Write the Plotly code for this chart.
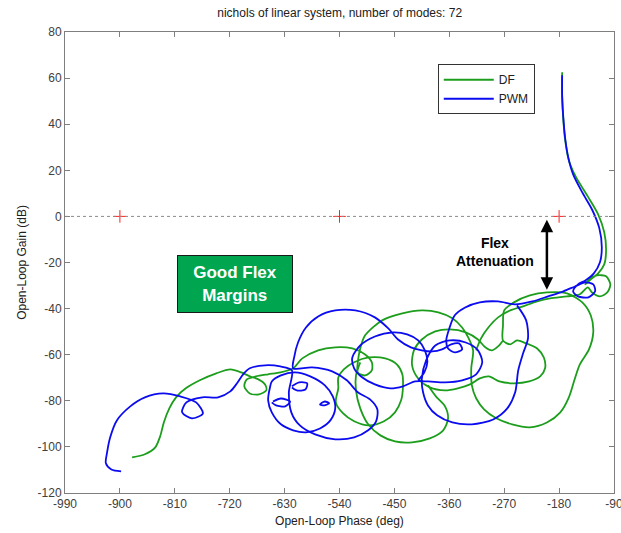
import plotly.graph_objects as go

# ---------------- data (phase in deg, gain in dB) ----------------
x_ticks = [-990, -900, -810, -720, -630, -540, -450, -360, -270, -180, -90]
y_ticks = [-120, -100, -80, -60, -40, -20, 0, 20, 40, 60, 80]

# DF (green) segments
df_a_phase = [-880, -859, -842, -834, -828, -819, -808, -792, -769, -742, -719, -701, -687, -673, -662, -660,
              -672, -687, -696, -692, -677, -657, -637, -616, -601, -575, -547, -519, -498, -487, -487, -498,
              -510, -510, -506, -498, -470, -437, -405, -378, -355, -339, -329, -321, -324, -323, -316, -303,
              -283, -257, -228, -200, -178, -164, -155, -146, -131, -124, -128, -142, -167, -200, -228, -254,
              -270, -272, -272, -260, -249, -234, -216, -205, -203, -211, -229, -255, -278, -295, -310, -326,
              -346, -367, -392, -411, -421, -418, -405, -383, -359, -333, -313, -301, -290, -280, -272]
df_a_gain = [-104.5, -103.2, -100.2, -95.4, -89.4, -83.3, -78.5, -74.6, -71.1, -68.1, -66.4, -67.7, -69.4, -70.7,
             -72.9, -75.5, -77.2, -76.8, -73.7, -70.7, -69.4, -68.5, -67.7, -65.9, -61.6, -58.1, -56.8, -57.3,
             -59.9, -63.3, -66.8, -69.0, -67.7, -63.3, -57.3, -51.6, -45.1, -42.1, -40.8, -41.6, -44.2, -48.2,
             -52.5, -58.1, -65.9, -73.3, -78.9, -83.7, -87.6, -90.2, -91.5, -89.4, -85.0, -78.5, -71.1, -64.2,
             -57.7, -50.3, -43.0, -37.3, -33.4, -33.0, -34.3, -37.3, -40.8, -47.3, -53.8, -55.5, -53.8, -55.1,
             -57.3, -61.2, -65.9, -69.4, -71.6, -72.4, -71.6, -69.4, -70.3, -72.9, -74.6, -75.5, -74.2, -70.3,
             -64.6, -58.1, -53.4, -49.9, -49.0, -50.3, -53.4, -56.8, -58.1, -56.4, -53.8]

df_b_phase = [-395, -382, -367, -362, -370, -392, -421, -449, -473, -493, -506, -513, -513, -506]
df_b_gain = [-73.3, -78.1, -82.4, -87.6, -92.8, -96.3, -98.0, -97.6, -95.0, -90.2, -83.3, -75.5, -69.0, -63.3]

df_c_phase = [-542, -542, -533, -516, -492, -465, -446, -437, -436, -439, -449, -467, -492, -516, -534, -546, -542]
df_c_gain = [-74.6, -69.9, -66.4, -63.3, -61.2, -61.6, -64.2, -68.5, -74.2, -79.8, -85.0, -88.9, -90.7, -88.9,
             -85.5, -80.7, -74.6]

df_d_phase = [-175, -175, -173, -170, -164, -152, -133, -116, -106, -103, -106, -116, -128, -137, -131, -118,
              -103, -96, -101, -113, -126, -133, -146, -167, -195, -216, -239, -260, -280, -296, -308, -316]
df_d_gain = [62.5, 52.5, 41.6, 33.0, 24.3, 16.9, 8.7, 0.9, -6.9, -14.8, -20.8, -24.7, -27.3, -29.5, -27.3, -25.6,
             -26.0, -29.5, -33.0, -34.7, -33.0, -30.8, -33.8, -34.7, -35.6, -36.9, -39.0, -40.8, -43.8, -48.2,
             -52.9, -58.1]

# PWM (blue) segments
pwm_a_phase = [-175, -175, -173, -170, -165, -157, -142, -126, -114, -110, -113, -123, -137, -149, -157, -149,
               -132, -121, -124, -137, -154, -173, -198, -224, -252, -280, -310, -334, -351, -360, -365, -362,
               -351, -339, -344, -357, -372, -388, -405, -423, -444, -460, -482, -514, -547, -575, -595, -608,
               -614, -616, -585, -552, -528, -510, -490, -478, -480, -493, -516, -547, -580, -605, -619, -623,
               -618, -637, -662, -687, -698, -708, -719, -739, -765, -791, -798, -782, -764, -775, -801, -829,
               -859, -883, -905, -916, -921, -923, -914, -898]
pwm_a_gain = [61.2, 52.1, 42.5, 33.8, 25.6, 18.2, 10.4, 3.0, -5.2, -13.4, -19.9, -24.7, -27.8, -29.5, -32.5, -34.7,
              -35.1, -32.5, -29.5, -28.6, -30.4, -32.5, -34.7, -36.9, -38.2, -36.9, -37.3, -39.5, -42.9, -48.6,
              -53.8, -57.3, -59.0, -57.7, -55.1, -55.5, -57.7, -58.6, -58.1, -56.8, -53.4, -48.6, -43.8, -40.8,
              -40.8, -43.4, -48.2, -54.7, -60.7, -65.9, -65.5, -67.2, -71.1, -76.3, -79.4, -83.7, -88.9, -92.8,
              -95.9, -96.7, -94.6, -90.7, -85.0, -76.3, -66.8, -65.1, -64.6, -65.9, -68.5, -72.4, -75.9, -78.5,
              -78.5, -80.7, -85.0, -87.6, -85.5, -80.7, -78.1, -76.8, -78.5, -82.4, -88.5, -95.9, -102.4, -107.1,
              -109.8, -110.6]

pwm_b_phase = [-249, -234, -231, -239, -247, -252, -265, -288, -323, -355, -380, -395, -403, -405, -398, -383,
               -359, -333, -313, -306, -316, -339, -367, -395, -416, -436, -457, -482, -503, -516, -519, -506,
               -482, -452, -429, -411, -400, -396, -401, -411]
pwm_b_gain = [-38.6, -45.1, -52.9, -59.4, -66.8, -76.3, -83.3, -88.1, -90.2, -89.4, -86.3, -82.0, -76.3, -70.3,
              -62.5, -56.0, -53.8, -54.7, -58.1, -63.3, -68.5, -71.1, -72.0, -71.6, -71.6, -73.7, -74.6, -72.9,
              -69.8, -65.9, -61.2, -56.0, -52.1, -50.3, -51.2, -53.8, -58.1, -63.3, -67.7, -71.1]

pwm_c_phase = [-654, -657, -651, -636, -616, -595, -572, -555, -547, -551, -564, -588, -613, -636, -651, -654]
pwm_c_gain = [-74.2, -79.8, -85.0, -90.2, -92.8, -93.7, -92.0, -88.5, -83.3, -78.1, -73.3, -69.4, -67.7, -69.0,
              -71.6, -74.2]

pwm_d_phase = [-618, -606, -593, -596, -610, -618]
pwm_d_gain = [-73.7, -72.0, -72.4, -75.1, -75.5, -74.2]

pwm_e_phase = [-649, -636, -621, -629, -644, -651]
pwm_e_gain = [-80.3, -79.0, -80.3, -82.4, -82.0, -80.7]

pwm_f_phase = [-572, -564, -557, -565, -572]
pwm_f_gain = [-81.6, -80.3, -81.1, -82.0, -81.6]

marker_phase = [-900, -540, -180]
marker_gain = [0, 0, 0]


def join(segments):
    xs, ys = [], []
    for sx, sy in segments:
        if xs:
            xs.append(None)
            ys.append(None)
        xs.extend(sx)
        ys.extend(sy)
    return xs, ys


df_x, df_y = join([(df_d_phase, df_d_gain), (df_a_phase, df_a_gain),
                   (df_b_phase, df_b_gain), (df_c_phase, df_c_gain)])
pwm_x, pwm_y = join([(pwm_a_phase, pwm_a_gain), (pwm_b_phase, pwm_b_gain), (pwm_c_phase, pwm_c_gain),
                     (pwm_d_phase, pwm_d_gain), (pwm_e_phase, pwm_e_gain), (pwm_f_phase, pwm_f_gain)])

FONT = "Liberation Sans, Arial, sans-serif"
GREEN = "#1c9e1c"
BLUE = "#0b0bef"

fig = go.Figure()
fig.add_hline(y=0, line=dict(color="#8a8a8a", width=1, dash="dot"))
fig.add_trace(go.Scatter(x=marker_phase, y=marker_gain, mode="markers", showlegend=False,
                         marker=dict(symbol="cross-thin", size=9, line=dict(color="#ff2020", width=1))))
fig.add_trace(go.Scatter(x=df_x, y=df_y, mode="lines", name="DF", connectgaps=False,
                         line=dict(color=GREEN, width=1.8, shape="spline", smoothing=0.8)))
fig.add_trace(go.Scatter(x=pwm_x, y=pwm_y, mode="lines", name="PWM", connectgaps=False,
                         line=dict(color=BLUE, width=1.8, shape="spline", smoothing=0.8)))

axis_common = dict(showgrid=False, zeroline=False, showline=True, linecolor="#7f7f7f", linewidth=1,
                   mirror="ticks", ticks="inside", ticklen=5, tickcolor="#7f7f7f", automargin=False,
                   ticklabeloverflow="allow",
                   tickfont=dict(family=FONT, size=12, color="#404040"))

fig.update_xaxes(range=[-990, -90], tickvals=x_ticks, ticktext=[str(v) for v in x_ticks],
                 title=dict(text="Open-Loop Phase (deg)", font=dict(family=FONT, size=12, color="#202020"),
                            standoff=6), **axis_common)
fig.update_yaxes(range=[-120, 80], tickvals=y_ticks, ticktext=[str(v) for v in y_ticks],
                 title=dict(text="Open-Loop Gain (dB)", font=dict(family=FONT, size=12, color="#202020"),
                            standoff=8), **axis_common)

fig.add_annotation(x=-711, y=-29.5, xref="x", yref="y", text="<b>Good Flex<br>Margins</b>",
                   showarrow=False, font=dict(family=FONT, size=17, color="white"),
                   bgcolor="#00a550", bordercolor="#1a1a1a", borderwidth=1, width=112, height=54,
                   align="center", valign="middle")
fig.add_annotation(x=-285, y=-15.6, xref="x", yref="y", text="<b>Flex<br>Attenuation</b>",
                   showarrow=False, font=dict(family=FONT, size=14, color="black"), align="center")
fig.add_annotation(x=-200, y=-1.5, ax=-200, ay=-32.5, xref="x", yref="y", axref="x", ayref="y",
                   text="", showarrow=True, arrowhead=2, arrowside="end+start", arrowsize=1,
                   arrowwidth=2.5, arrowcolor="black")

fig.update_layout(
    width=621, height=533,
    margin=dict(l=65, r=7, t=32, b=40, autoexpand=False),
    paper_bgcolor="white", plot_bgcolor="white",
    title=dict(text="nichols of linear system, number of modes: 72", x=0.547, xanchor="center",
               y=0.976, yanchor="middle", font=dict(family=FONT, size=12, color="#202020")),
    legend=dict(x=0.679, y=0.93, xanchor="left", yanchor="top", bgcolor="white",
                bordercolor="#333333", borderwidth=1, font=dict(family=FONT, size=12, color="#202020"),
                itemwidth=50, tracegroupgap=0),
    showlegend=True,
)

fig.write_html("out.html", config={"displayModeBar": False},
               post_script="document.body.style.margin='0';document.body.style.overflow='hidden';")
